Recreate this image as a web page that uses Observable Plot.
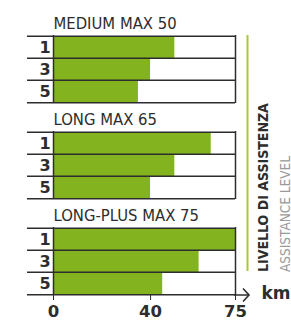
<!DOCTYPE html>
<html><head><meta charset="utf-8">
<script src="https://cdn.jsdelivr.net/npm/d3@7"></script>
<script src="https://cdn.jsdelivr.net/npm/@observablehq/plot@0.6"></script>
<style>
html,body{margin:0;padding:0;background:#fff;}
#chart{position:relative;width:291px;height:321px;overflow:hidden;}
#chart svg{display:block;overflow:visible;}
#chart svg g[aria-label^="x-axis"] text{font-family:"DejaVu Sans",sans-serif;font-weight:bold;font-size:16.5px;}
</style></head><body><div id="chart"></div>
<script>
const panels = ["MEDIUM MAX 50", "LONG MAX 65", "LONG-PLUS MAX 75"];
const levels = ["1", "3", "5"];
const mediumKm = [50, 40, 35];
const longKm = [65, 50, 40];
const longPlusKm = [75, 60, 45];
const xTicks = [0, 40, 75];
const axisUnit = "km";
const sideTitle = "LIVELLO DI ASSISTENZA";
const sideSubtitle = "ASSISTANCE LEVEL";

const series = [mediumKm, longKm, longPlusKm];
const rows = panels.flatMap((p, i) => levels.map((l, j) => ({panel: p, level: l, km: series[i][j]})));
const last = panels[panels.length - 1];

const W = 291, H = 321, mTop = 35, mBottom = 26, mLeft = 53, mRight = 56;
const facetH = 68, rowH = facetH / levels.length, gap = 28;
const pad = gap / (facetH + gap);
const ink = "#2d2d2d";
const green = "#83b31f";
const lime = "#a7c935";
const cond = "'DejaVu Sans Condensed','DejaVu Sans',sans-serif";

const plot = Plot.plot({
  width: W, height: H,
  marginTop: mTop, marginBottom: mBottom, marginLeft: mLeft, marginRight: mRight,
  style: {fontFamily: cond, color: ink, background: "transparent", overflow: "visible"},
  x: {domain: [0, d3.max(xTicks)], ticks: xTicks, tickSize: 5, tickPadding: 5, label: null, tickFormat: d => String(d)},
  y: {domain: levels, padding: 0, axis: null},
  fy: {domain: panels, paddingInner: pad, paddingOuter: 0, axis: null, label: null},
  marks: [
    Plot.barX(rows, {x: "km", y: "level", fy: "panel", fill: green}),
    Plot.ruleY(rows, {y: "level", fy: "panel", dy: -rowH / 2, insetLeft: -26, stroke: ink, strokeWidth: 1.5}),
    Plot.ruleY(panels, {y: () => levels[levels.length - 1], fy: d => d, dy: rowH / 2, insetLeft: -26, stroke: ink, strokeWidth: 1.5}),
    Plot.ruleX([0, d3.max(xTicks)], {x: d => d, stroke: ink, strokeWidth: 1.5}),
    Plot.text(rows, {text: "level", y: "level", fy: "panel", frameAnchor: "left", dx: -14, fontFamily: "'DejaVu Sans',sans-serif", fontWeight: "bold", fontSize: 16, fill: ink}),
    Plot.text(panels, {text: d => d, fy: d => d, frameAnchor: "top-left", textAnchor: "start", lineAnchor: "bottom", dy: -7, fontSize: 16.5, fill: ink}),
    Plot.text([axisUnit], {text: d => d, fy: () => last, frameAnchor: "bottom-right", textAnchor: "start", dx: 26, dy: 3, fontFamily: "'DejaVu Sans',sans-serif", fontWeight: "bold", fontSize: 17, fill: ink})
  ]
});
document.getElementById("chart").appendChild(plot);

// decorations positioned from the scales
const svg = d3.select(plot);
const xs = plot.scale("x"), fys = plot.scale("fy");
const ax = xs.apply(d3.max(xTicks)) + 13;
const ay = fys.apply(last) + fys.bandwidth;
const topY = fys.apply(panels[0]);

const g = svg.append("g").attr("aria-label", "decorations");
g.append("path")
  .attr("d", `M${ax - 14},${ay}H${ax}`)
  .style("fill", "none").style("stroke", ink).style("stroke-width", "1.5px");
g.append("path")
  .attr("d", `M${ax - 5},${ay - 6.5}L${ax + 1},${ay}L${ax - 5},${ay + 6.5}`)
  .style("fill", "none").style("stroke", ink).style("stroke-width", "1.6px");
g.append("line")
  .attr("x1", 247.5).attr("x2", 247.5).attr("y1", topY).attr("y2", ay - 24)
  .style("stroke", lime).style("stroke-width", "2px");
g.append("text")
  .attr("transform", `translate(268,${ay - 23}) rotate(-90)`)
  .attr("text-anchor", "start")
  .attr("font-family", cond).attr("font-weight", "bold").attr("font-size", 14)
  .attr("fill", ink).text(sideTitle);
g.append("text")
  .attr("transform", `translate(289.5,${ay - 23}) rotate(-90)`)
  .attr("text-anchor", "start")
  .attr("font-family", cond).attr("font-size", 13.5)
  .attr("fill", "#9a9a9a").text(sideSubtitle);
</script></body></html>
